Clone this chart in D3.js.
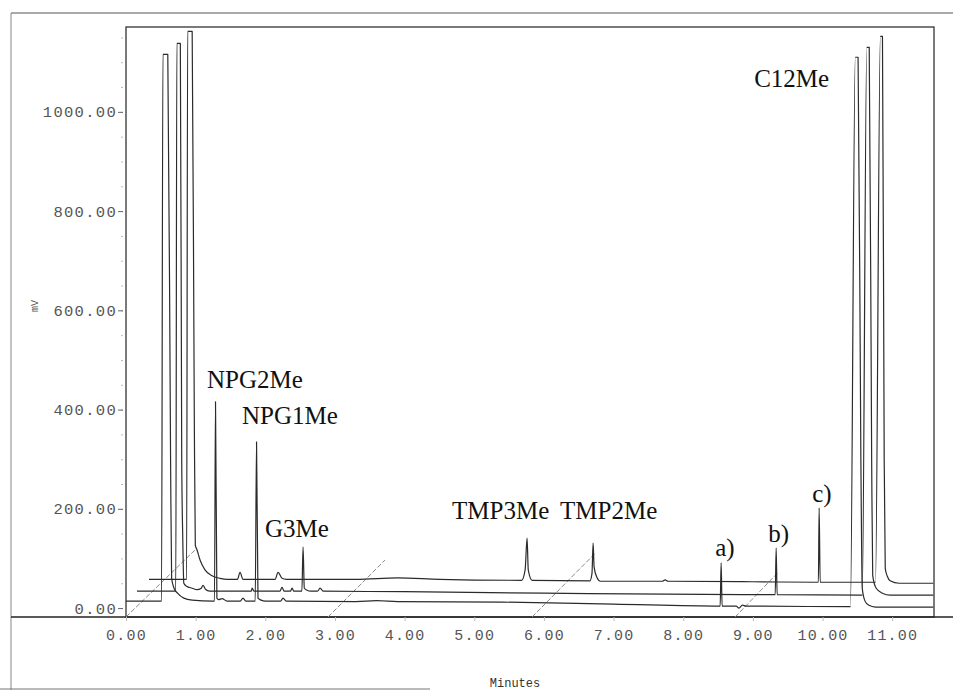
<!DOCTYPE html>
<html>
<head>
<meta charset="utf-8">
<script src="https://cdn.jsdelivr.net/npm/d3@7"></script>
<style>
  body { margin: 0; background: #fff; }
  #chart { width: 953px; height: 692px; }
</style>
</head>
<body>
<div id="chart"></div>
<script>
// Chromatogram traces as [minutes, mV] (three overlaid runs)
const traceBottom = [
  [0.00, 14], [0.51, 14], [0.53, 1116], [0.60, 1116], [0.64, 300], [0.655, 60], [0.69, 40],
  [0.74, 30], [0.83, 20], [0.95, 16], [1.25, 14], [1.27, 14], [1.285, 416], [1.305, 20],
  [1.33, 17], [1.38, 19], [1.45, 14], [1.64, 14], [1.68, 20], [1.72, 14], [1.855, 14],
  [1.874, 335], [1.895, 20], [1.94, 16], [2.00, 14], [2.22, 14], [2.254, 20], [2.30, 14],
  [3.30, 13], [3.60, 15], [3.90, 13], [5.40, 12], [7.00, 8], [8.53, 4], [8.544, 91],
  [8.558, 4], [8.76, 4], [8.80, 0], [8.85, 6], [8.90, 4], [10.38, 3], [10.40, 3],
  [10.47, 1110], [10.51, 1110], [10.55, 300], [10.57, 40], [10.61, 14], [10.66, 6],
  [10.76, 2], [11.59, 2]
];

const traceMiddle = [
  [0.158, 34], [0.715, 34], [0.73, 1138], [0.78, 1138], [0.80, 300], [0.815, 140],
  [0.83, 50], [0.87, 44], [0.95, 40], [1.02, 37], [1.08, 40], [1.106, 46], [1.14, 38],
  [1.20, 34], [1.80, 34], [1.81, 40], [1.84, 34], [2.21, 34], [2.24, 42], [2.27, 34],
  [2.36, 34], [2.384, 40], [2.41, 34], [2.525, 34], [2.542, 123], [2.56, 40], [2.60, 36],
  [2.65, 34], [2.75, 34], [2.786, 40], [2.83, 34], [4.00, 33], [6.00, 30], [9.00, 27],
  [9.32, 27], [9.334, 121], [9.348, 27], [10.55, 26], [10.57, 26], [10.635, 1130],
  [10.67, 1130], [10.705, 300], [10.72, 66], [10.77, 40], [10.86, 30], [10.97, 26],
  [11.59, 26]
];

const traceTop = [
  [0.33, 58], [0.87, 58], [0.885, 1162], [0.95, 1162], [0.98, 400], [0.995, 127],
  [1.02, 117], [1.063, 97], [1.134, 77], [1.235, 65], [1.35, 60], [1.45, 58], [1.60, 58],
  [1.637, 72], [1.68, 58], [2.14, 58], [2.183, 72], [2.24, 60], [2.30, 58], [3.30, 58],
  [3.90, 61], [4.50, 58], [5.68, 56], [5.73, 77], [5.758, 141], [5.775, 77], [5.83, 56],
  [6.66, 55], [6.69, 70], [6.706, 131], [6.72, 83], [6.76, 62], [6.81, 54], [7.70, 54],
  [7.74, 57], [7.78, 54], [8.99, 53], [9.94, 52], [9.951, 202], [9.966, 52], [10.74, 52],
  [10.76, 52], [10.83, 1152], [10.86, 1152], [10.885, 300], [10.90, 80], [10.93, 64],
  [10.97, 55], [11.10, 50], [11.59, 50]
];

// Skew guide lines (start time on the axis, end time / value)
const guideStartTimes = [0, 2.90, 5.83, 8.745];
const guideEndTimes = [1.02, 3.72, 6.74, 9.37];
const guideEndValues = [121, 97, 111, 73];

// Peak labels
const peakNames = ["NPG2Me", "NPG1Me", "G3Me", "TMP3Me", "TMP2Me", "a)", "b)", "c)", "C12Me"];
const peakLabelTimes = [1.163, 1.666, 1.996, 4.681, 6.232, 8.458, 9.219, 9.851, 9.018];
const peakLabelValues = [444, 371, 143, 180, 180, 105, 133, 214, 1051];

// Axis ticks
const xTicks = [0, 1, 2, 3, 4, 5, 6, 7, 8, 9, 10, 11];
const yTicks = [0, 200, 400, 600, 800, 1000];

const width = 953, height = 692;
const plot = { left: 126, right: 934, top: 27, bottom: 617 };

const svg = d3.select("#chart")
  .append("svg")
  .attr("width", width)
  .attr("height", height)
  .style("background", "#fff");

const x = d3.scaleLinear().domain([0, 11.6]).range([plot.left, plot.right]);
const y = d3.scaleLinear().domain([-18, 1171]).range([plot.bottom, plot.top]);

// outer frame of the scanned page
svg.append("line").attr("x1", 11).attr("x2", width).attr("y1", 13).attr("y2", 13)
  .attr("stroke", "#555").attr("stroke-width", 1.2);
svg.append("line").attr("x1", 11).attr("x2", 11).attr("y1", 13).attr("y2", 690)
  .attr("stroke", "#888").attr("stroke-width", 1);
svg.append("line").attr("x1", 0).attr("x2", 430).attr("y1", 689).attr("y2", 689)
  .attr("stroke", "#777").attr("stroke-width", 1.2);

// plot frame
svg.append("rect")
  .attr("x", plot.left).attr("y", plot.top)
  .attr("width", plot.right - plot.left).attr("height", plot.bottom - plot.top)
  .attr("fill", "none").attr("stroke", "#333").attr("stroke-width", 1.3);

// bottom axis line runs across the whole page
svg.append("line").attr("x1", 11).attr("x2", width).attr("y1", plot.bottom).attr("y2", plot.bottom)
  .attr("stroke", "#222").attr("stroke-width", 1.5);

// x axis
const xAxis = svg.append("g")
  .attr("transform", `translate(0,${plot.bottom})`)
  .call(d3.axisBottom(x).tickValues(xTicks).tickFormat(d3.format(".2f")).tickSize(4).tickPadding(8));
xAxis.select(".domain").remove();
xAxis.selectAll("line").attr("stroke", "#bbb");
xAxis.selectAll("text")
  .attr("font-family", "'Liberation Mono', 'DejaVu Sans Mono', monospace")
  .attr("font-size", 15).attr("letter-spacing", 1.2).attr("fill", "#555");

// y axis: minor ticks every 50, labelled ticks every 200
const yMinor = svg.append("g")
  .attr("transform", `translate(${plot.left - 3},0)`)
  .call(d3.axisLeft(y).tickValues(d3.range(0, 1151, 50)).tickSize(2).tickFormat(""));
yMinor.select(".domain").remove();
yMinor.selectAll("line").attr("stroke", "#bbb");

const yAxis = svg.append("g")
  .attr("transform", `translate(${plot.left - 3},0)`)
  .call(d3.axisLeft(y).tickValues(yTicks).tickFormat(d3.format(".2f")).tickSize(5).tickPadding(1));
yAxis.select(".domain").remove();
yAxis.selectAll("line").attr("stroke", "#666");
yAxis.selectAll("text")
  .attr("font-family", "'Liberation Mono', 'DejaVu Sans Mono', monospace")
  .attr("font-size", 15.5).attr("letter-spacing", 1.3).attr("fill", "#555");

// axis titles
svg.append("text")
  .attr("x", 515).attr("y", 687)
  .attr("text-anchor", "middle")
  .attr("font-family", "'Liberation Mono', monospace")
  .attr("font-size", 12).attr("fill", "#333")
  .text("Minutes");

svg.append("text")
  .attr("transform", "translate(38,306) rotate(-90)")
  .attr("text-anchor", "middle")
  .attr("font-family", "'Liberation Mono', monospace")
  .attr("font-size", 10).attr("fill", "#555")
  .text("mV");

// clip for the traces
svg.append("clipPath").attr("id", "plotClip")
  .append("rect")
  .attr("x", plot.left).attr("y", plot.top)
  .attr("width", plot.right - plot.left).attr("height", plot.bottom - plot.top);

const plotArea = svg.append("g").attr("clip-path", "url(#plotClip)");

// skew guides (light dashed)
plotArea.selectAll("line.guide")
  .data(guideStartTimes)
  .enter()
  .append("line")
  .attr("class", "guide")
  .attr("x1", d => x(d))
  .attr("y1", y(-18))
  .attr("x2", (d, i) => x(guideEndTimes[i]))
  .attr("y2", (d, i) => y(guideEndValues[i]))
  .attr("stroke", "#8a8a8a")
  .attr("stroke-width", 1)
  .attr("stroke-dasharray", "5,2");

const line = d3.line()
  .x(d => x(d[0]))
  .y(d => y(d[1]))
  .curve(d3.curveMonotoneX);

plotArea.selectAll("path.trace")
  .data([traceBottom, traceMiddle, traceTop])
  .enter()
  .append("path")
  .attr("class", "trace")
  .attr("d", line)
  .attr("fill", "none")
  .attr("stroke", "#2b2b2b")
  .attr("stroke-width", 1.2)
  .attr("stroke-linejoin", "round");

// peak labels
svg.selectAll("text.peak")
  .data(peakNames)
  .enter()
  .append("text")
  .attr("class", "peak")
  .attr("x", (d, i) => x(peakLabelTimes[i]))
  .attr("y", (d, i) => y(peakLabelValues[i]))
  .attr("font-family", "'Liberation Serif', 'DejaVu Serif', serif")
  .attr("font-size", 25)
  .attr("fill", "#111")
  .text(d => d);
</script>
</body>
</html>
